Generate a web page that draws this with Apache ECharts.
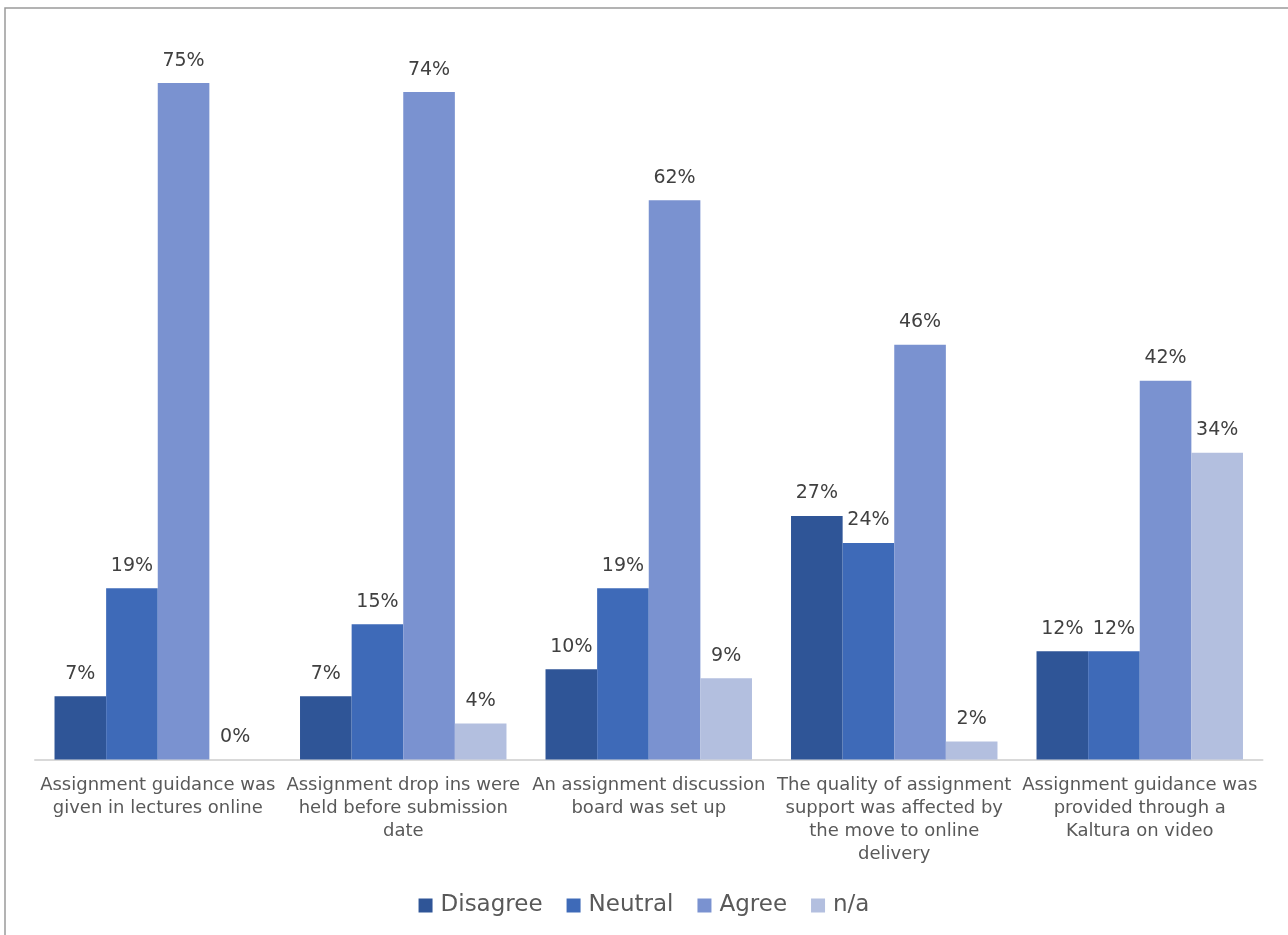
<!DOCTYPE html>
<html>
<head>
<meta charset="utf-8">
<script src="https://cdn.jsdelivr.net/npm/echarts@6/dist/echarts.min.js"></script>
<style>
  html, body { margin: 0; padding: 0; background: #ffffff; }
  #chart { width: 1288px; height: 935px; }
</style>
</head>
<body>
<div id="chart"></div>
<script>
// Survey statements (line breaks as shown under each group)
const categories = [
  'Assignment guidance was\ngiven in lectures online',
  'Assignment drop ins were\nheld before submission\ndate',
  'An assignment discussion\nboard was set up',
  'The quality of assignment\nsupport was affected by\nthe move to online\ndelivery',
  'Assignment guidance was\nprovided through a\nKaltura on video'
];

// Share of responses, percent
const disagree = [7, 7, 10, 27, 12];
const neutral  = [19, 15, 19, 24, 12];
const agree    = [75, 74, 62, 46, 42];
const notApplicable = [0, 4, 9, 2, 34];

const seriesNames = ['Disagree', 'Neutral', 'Agree', 'n/a'];
const seriesData = [disagree, neutral, agree, notApplicable];
const seriesColors = ['#2F5597', '#3E6AB8', '#7A92D0', '#B3BFDF'];

const FONT = '"DejaVu Sans", Verdana, sans-serif';

const chart = echarts.init(document.getElementById('chart'), null, { renderer: 'canvas' });

chart.setOption({
  backgroundColor: '#ffffff',
  animation: false,
  graphic: [{
    type: 'rect',
    shape: { x: 5, y: 8, width: 1400, height: 1000 },
    style: { fill: 'none', stroke: '#9A9A9A', lineWidth: 1.5 },
    silent: true
  }],
  grid: { left: 35, right: 25.5, top: 38, bottom: 175.5 },
  legend: {
    data: seriesNames,
    bottom: 13,
    left: 'center',
    itemWidth: 14,
    itemHeight: 14,
    itemGap: 24,
    icon: 'rect',
    textStyle: { fontFamily: FONT, fontSize: 23, color: '#595959', padding: [0, 0, 0, 3] }
  },
  xAxis: {
    type: 'category',
    data: categories,
    axisLine: { show: true, lineStyle: { color: '#D9D9D9', width: 2 } },
    axisTick: { show: false },
    axisLabel: {
      interval: 0,
      margin: 14,
      fontFamily: FONT,
      fontSize: 18,
      lineHeight: 23,
      color: '#595959',
      align: 'center'
    }
  },
  yAxis: {
    type: 'value',
    min: 0,
    max: 80,
    show: false,
    splitLine: { show: false }
  },
  series: seriesNames.map((name, i) => ({
    name,
    type: 'bar',
    data: seriesData[i],
    barGap: '0%',
    barCategoryGap: '15.9%',
    itemStyle: { color: seriesColors[i] },
    label: {
      show: true,
      position: 'top',
      distance: 13,
      formatter: p => p.value + '%',
      fontFamily: FONT,
      fontSize: 19,
      color: '#404040'
    }
  }))
});
</script>
</body>
</html>
